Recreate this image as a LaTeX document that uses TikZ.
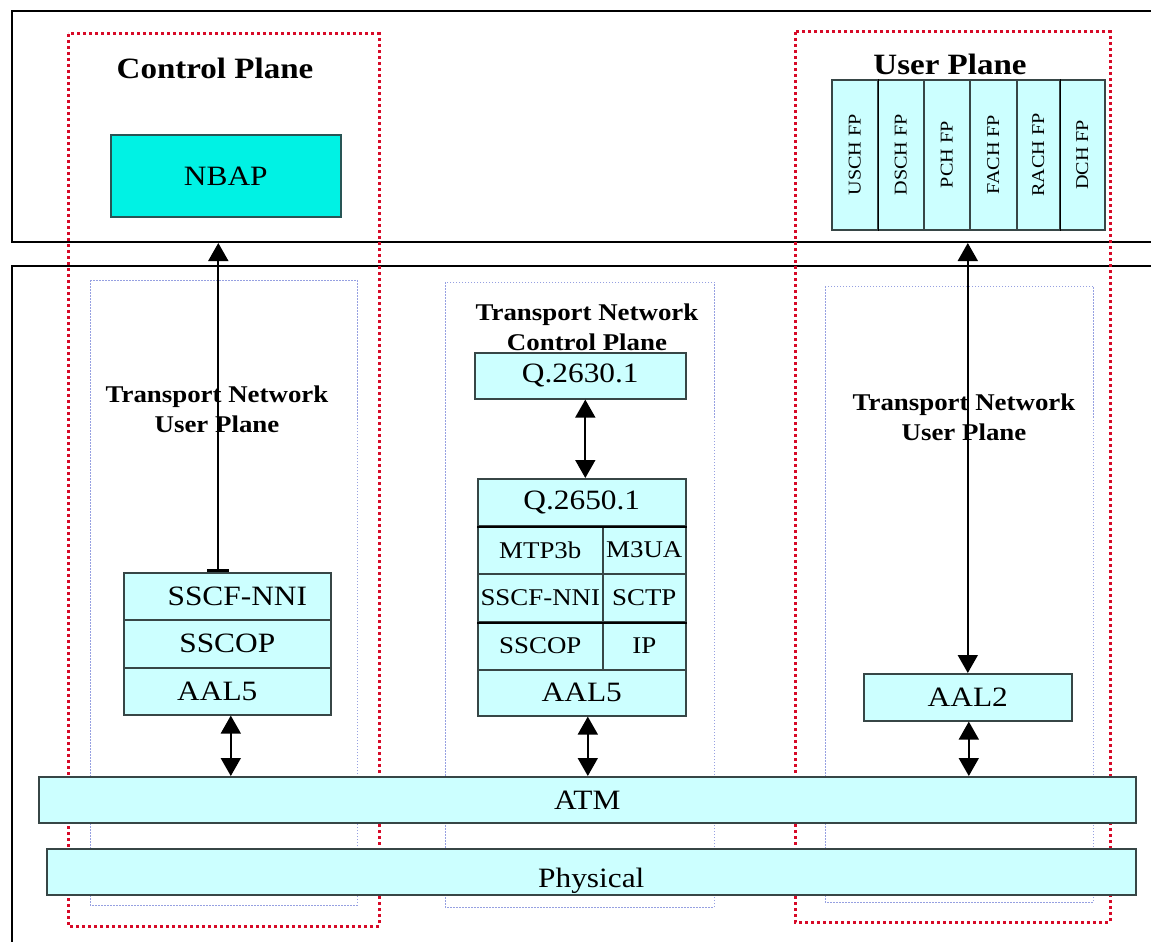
\documentclass[tikz,border=0pt]{standalone}
\usepackage{fontspec}
\setmainfont{Liberation Serif}[FakeStretch=1.12]
\usetikzlibrary{arrows.meta}

\definecolor{nbapfill}{RGB}{0,242,228}
\definecolor{nbapedge}{RGB}{40,85,85}
\definecolor{layerfill}{RGB}{204,255,255}
\definecolor{edgegray}{RGB}{55,70,70}
\definecolor{planered}{RGB}{215,10,40}
\definecolor{tnblue}{RGB}{150,160,225}

\newcommand{\fsHead}{\fontsize{29.5}{30}\selectfont}
\newcommand{\fsBig}{\fontsize{28}{30}\selectfont}
\newcommand{\fsMid}{\fontsize{24}{30}\selectfont}
\newcommand{\fsSmall}{\fontsize{18}{20}\selectfont}

\tikzset{
  frame/.style={draw=black, line width=2pt, anchor=north west, inner sep=0pt},
  planezone/.style={draw=planered, line width=3pt, dash pattern=on 3pt off 3pt},
  tnzone/.style={draw=tnblue, line width=1pt, dash pattern=on 1.5pt off 1.5pt},
  layer/.style={draw=edgegray, line width=1.6pt, fill=layerfill, inner sep=0pt,
    anchor=north west, font=\fsBig},
  sublayer/.style={layer, font=\fsMid},
  fpcol/.style={layer, minimum height=150, font=\fsSmall},
  fptext/.style={rotate=90},
  heading/.style={font=\bfseries\fsHead},
  tnlabel/.style={font=\bfseries\fsMid, align=center},
  conn/.style={draw=black, line width=1.7pt},
  tip/.tip={Triangle[length=18pt, width=20pt]}
}

\begin{document}
\begin{tikzpicture}[x=1pt, y=-1pt]
\useasboundingbox (0,0) rectangle (1151,942);
\clip (0,0) rectangle (1151,942);
\fill[white] (0,0) rectangle (1151,942);

% outer frames of the upper and lower halves
\node[frame, minimum width=1170, minimum height=231] (upper) at (11,10) {};
\node[frame, minimum width=1170, minimum height=700] (lower) at (11,265) {};

% control plane and user plane zones
\draw[planezone] (68,34) rectangle (379,926);
\draw[planezone] (795,32) rectangle (1110,922);

% transport network zones
\draw[tnzone] (90,280) rectangle (357,905);
\draw[tnzone] (445,282) rectangle (714,907);
\draw[tnzone] (825,286) rectangle (1093,902);

% zone titles
\node[heading] (cptitle) at (215,68) {Control Plane};
\node[heading] (uptitle) at (950,64) {User Plane};
\node[tnlabel] (tnupl) at (217,409) {Transport Network\\User Plane};
\node[tnlabel] (tncp) at (587,327) {Transport Network\\Control Plane};
\node[tnlabel] (tnupr) at (964,417) {Transport Network\\User Plane};

% radio network control plane
\node[draw=nbapedge, line width=1.6pt, fill=nbapfill, inner sep=0pt, anchor=north west,
      minimum width=230, minimum height=82, font=\fsBig] (nbap) at (110,134) {NBAP};

% frame protocols of the user plane
\node[fpcol, minimum width=46] (usch) at (831,79) {};
\node[fpcol, minimum width=46] (dsch) at (877,79) {};
\node[fpcol, minimum width=46] (pch)  at (923,79) {};
\node[fpcol, minimum width=47] (fach) at (969,79) {};
\node[fpcol, minimum width=43] (rach) at (1016,79) {};
\node[fpcol, minimum width=45] (dch)  at (1059,79) {};
\foreach \c/\t in {usch/USCH FP, dsch/DSCH FP, pch/PCH FP, fach/FACH FP, rach/RACH FP, dch/DCH FP}
  \node[fptext, font=\fsSmall] at (\c.center) {\t};
\draw[black, line width=1.6pt] (usch.north east) -- (usch.south east);
\draw[black, line width=1.6pt] (rach.north east) -- (rach.south east);

% signalling bearer stack (left)
\node[layer, minimum width=207, minimum height=47] (ls1) at (123,572) {\hspace*{20pt}SSCF-NNI};
\node[layer, minimum width=207, minimum height=48] (ls2) at (123,619) {SSCOP};
\node[layer, minimum width=207, minimum height=47] (ls3) at (123,667) {AAL5\hspace*{20pt}};

% transport network control plane stack (middle)
\node[layer, minimum width=211, minimum height=46] (q26) at (474,352) {Q.2630.1};
\node[layer, minimum width=208, minimum height=47] (m0) at (477,478) {Q.2650.1};
\node[sublayer, minimum width=125, minimum height=48] (m1a) at (477,525) {MTP3b};
\node[sublayer, minimum width=83, minimum height=48] (m1b) at (602,525) {M3UA};
\node[sublayer, minimum width=125, minimum height=48] (m2a) at (477,573) {SSCF-NNI};
\node[sublayer, minimum width=83, minimum height=48] (m2b) at (602,573) {SCTP};
\node[sublayer, minimum width=125, minimum height=48] (m3a) at (477,621) {SSCOP};
\node[sublayer, minimum width=83, minimum height=48] (m3b) at (602,621) {IP};
\node[layer, minimum width=208, minimum height=46] (m4) at (477,669) {AAL5};
\draw[black, line width=2pt] (m0.south west) -- (m0.south east);
\draw[black, line width=2pt] (m2a.south west) -- (m2b.south east);

% user plane bearer
\node[layer, minimum width=208, minimum height=47] (aal2) at (863,673) {AAL2};

% connectors between layers
\draw[conn, {Rectangle[length=3pt, width=22pt]}-tip]
  ([xshift=-9pt]ls1.north) -- ([xshift=-9pt]ls1.north |- upper.south);
\draw[conn, tip-tip] (aal2.north |- upper.south) -- (aal2.north);
\draw[conn, tip-tip] ([xshift=5pt]q26.south) -- ([xshift=5pt]q26.south |- m0.north);

% shared ATM and physical layers
\node[layer, minimum width=1097, minimum height=46] (atm) at (38,776) {ATM};
\node[layer, minimum width=1089, minimum height=46] (phys) at (46,848) {};
\node[font=\fsBig] (physlbl) at ([yshift=-9pt]phys.center) {Physical};

\draw[conn, tip-tip] ([xshift=3.5pt]ls3.south) -- ([xshift=3.5pt]ls3.south |- atm.north);
\draw[conn, tip-tip] ([xshift=6pt]m4.south) -- ([xshift=6pt]m4.south |- atm.north);
\draw[conn, tip-tip] ([xshift=1pt]aal2.south) -- ([xshift=1pt]aal2.south |- atm.north);
\end{tikzpicture}
\end{document}
